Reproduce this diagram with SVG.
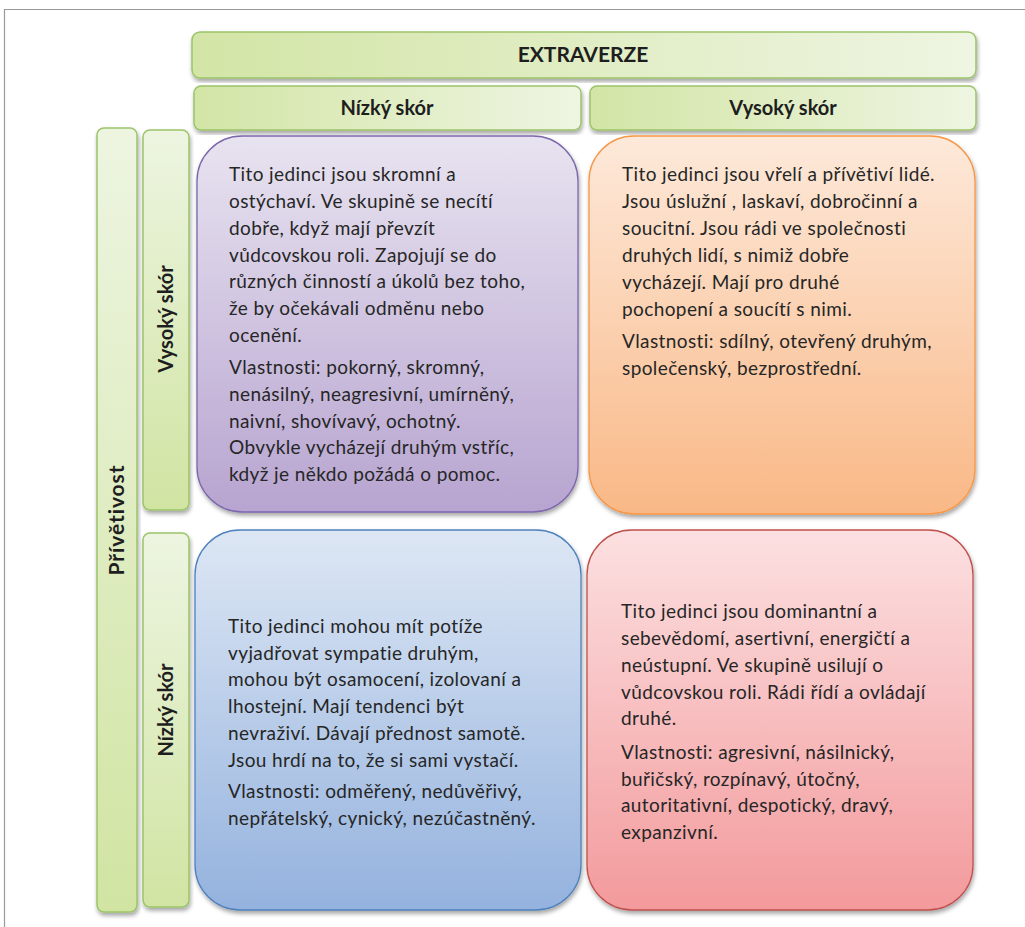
<svg xmlns="http://www.w3.org/2000/svg" width="1025" height="927" viewBox="0 0 1025 927">
<defs>
<linearGradient id="gH" x1="0" y1="0" x2="1" y2="0"><stop offset="0" stop-color="#d3e5a6"/><stop offset="1" stop-color="#eef5e2"/></linearGradient>
<linearGradient id="gV" x1="0" y1="0" x2="0" y2="1"><stop offset="0" stop-color="#edf5e1"/><stop offset="1" stop-color="#d1e4a2"/></linearGradient>
<linearGradient id="gP" x1="0" y1="0" x2="0" y2="1"><stop offset="0" stop-color="#e8e3f0"/><stop offset="1" stop-color="#b7a4d0"/></linearGradient>
<linearGradient id="gO" x1="0" y1="0" x2="0" y2="1"><stop offset="0" stop-color="#fde9da"/><stop offset="1" stop-color="#f9b886"/></linearGradient>
<linearGradient id="gB" x1="0" y1="0" x2="0" y2="1"><stop offset="0" stop-color="#dde7f4"/><stop offset="1" stop-color="#94b2de"/></linearGradient>
<linearGradient id="gR" x1="0" y1="0" x2="0" y2="1"><stop offset="0" stop-color="#fce0e1"/><stop offset="1" stop-color="#f39a9c"/></linearGradient>
<filter id="sh" x="-10%" y="-10%" width="120%" height="120%"><feDropShadow dx="1" dy="3" stdDeviation="2" flood-color="#000" flood-opacity="0.35"/></filter>
<style>
.bar{stroke:#9cc46a;stroke-width:1.5;filter:url(#sh)}
.box{stroke-width:1.3;filter:url(#sh)}
.h{font-family:Lato,"Liberation Sans",sans-serif;font-weight:bold;font-size:20px;fill:#1e1e1e;text-anchor:middle}
.t{font-family:Lato,"Liberation Sans",sans-serif;font-size:19px;letter-spacing:0.4px;fill:#262626}
</style>
</defs>
<rect width="1025" height="927" fill="#fff"/>
<path d="M4.5 927V9.5H1025" fill="none" stroke="#999" stroke-width="1.2"/>

<g id="extraverze">
<rect class="bar" x="192" y="32" width="784" height="46" rx="8" fill="url(#gH)"/>
<text class="h" x="583" y="62" style="font-size:21px">EXTRAVERZE</text>
</g>
<g id="header-nizky">
<rect class="bar" x="194" y="86" width="387" height="44" rx="7" fill="url(#gH)"/>
<text class="h" x="387" y="115">Nízký skór</text>
</g>
<g id="header-vysoky">
<rect class="bar" x="590" y="86" width="386" height="44" rx="7" fill="url(#gH)"/>
<text class="h" x="783" y="115">Vysoký skór</text>
</g>
<g id="privetivost">
<rect class="bar" x="97" y="128" width="40" height="784" rx="7" fill="url(#gV)"/>
<text class="h" transform="translate(124 520) rotate(-90)" style="font-size:21px;letter-spacing:0.9px">Přívětivost</text>
</g>
<g id="side-vysoky">
<rect class="bar" x="143" y="130" width="46" height="380" rx="7" fill="url(#gV)"/>
<text class="h" transform="translate(173 319) rotate(-90)">Vysoký skór</text>
</g>
<g id="side-nizky">
<rect class="bar" x="143" y="533" width="46" height="374" rx="7" fill="url(#gV)"/>
<text class="h" transform="translate(173 710) rotate(-90)">Nízký skór</text>
</g>

<g id="box-purple">
<rect class="box" x="197" y="136" width="381" height="376" rx="45" fill="url(#gP)" stroke="#7b66ac"/>
<text class="t" x="229" y="181">Tito jedinci jsou skromní a</text>
<text class="t" x="229" y="208">ostýchaví. Ve skupině se necítí</text>
<text class="t" x="229" y="235">dobře, když mají převzít</text>
<text class="t" x="229" y="262">vůdcovskou roli. Zapojují se do</text>
<text class="t" x="229" y="288">různých činností a  úkolů bez toho,</text>
<text class="t" x="229" y="315">že by očekávali odměnu nebo</text>
<text class="t" x="229" y="342">ocenění.</text>
<text class="t" x="229" y="374">Vlastnosti: pokorný, skromný,</text>
<text class="t" x="229" y="401">nenásilný, neagresivní, umírněný,</text>
<text class="t" x="229" y="428">naivní, shovívavý, ochotný.</text>
<text class="t" x="229" y="454">Obvykle vycházejí druhým vstříc,</text>
<text class="t" x="229" y="481">když je někdo požádá o pomoc.</text>
</g>

<g id="box-orange">
<rect class="box" x="589" y="136" width="386" height="378" rx="45" fill="url(#gO)" stroke="#f79646"/>
<text class="t" x="622" y="181">Tito jedinci jsou vřelí a přívětiví lidé.</text>
<text class="t" x="622" y="208">Jsou úslužní , laskaví, dobročinní a</text>
<text class="t" x="622" y="235">soucitní. Jsou rádi ve společnosti</text>
<text class="t" x="622" y="262">druhých lidí, s nimiž dobře</text>
<text class="t" x="622" y="289">vycházejí. Mají pro druhé</text>
<text class="t" x="622" y="316">pochopení a soucítí s nimi.</text>
<text class="t" x="622" y="348">Vlastnosti: sdílný, otevřený druhým,</text>
<text class="t" x="622" y="375">společenský, bezprostřední.</text>
</g>

<g id="box-blue">
<rect class="box" x="195" y="530" width="386" height="380" rx="45" fill="url(#gB)" stroke="#4f81bd"/>
<text class="t" x="228" y="633">Tito jedinci mohou mít potíže</text>
<text class="t" x="228" y="660">vyjadřovat sympatie druhým,</text>
<text class="t" x="228" y="686">mohou být osamocení, izolovaní a</text>
<text class="t" x="228" y="713">lhostejní. Mají tendenci být</text>
<text class="t" x="228" y="740">nevraživí. Dávají přednost samotě.</text>
<text class="t" x="228" y="767">Jsou hrdí na to, že si sami vystačí.</text>
<text class="t" x="228" y="798">Vlastnosti: odměřený, nedůvěřivý,</text>
<text class="t" x="228" y="825">nepřátelský, cynický, nezúčastněný.</text>
</g>

<g id="box-red">
<rect class="box" x="587" y="530" width="386" height="380" rx="45" fill="url(#gR)" stroke="#c0504d"/>
<text class="t" x="621" y="618">Tito jedinci jsou dominantní a</text>
<text class="t" x="621" y="645">sebevědomí, asertivní, energičtí a</text>
<text class="t" x="621" y="672">neústupní. Ve skupině usilují o</text>
<text class="t" x="621" y="699">vůdcovskou roli. Rádi řídí a ovládají</text>
<text class="t" x="621" y="725">druhé.</text>
<text class="t" x="621" y="759">Vlastnosti: agresivní, násilnický,</text>
<text class="t" x="621" y="786">buřičský, rozpínavý, útočný,</text>
<text class="t" x="621" y="812">autoritativní, despotický, dravý,</text>
<text class="t" x="621" y="839">expanzivní.</text>
</g>
<g id="connectors"/>
</svg>
